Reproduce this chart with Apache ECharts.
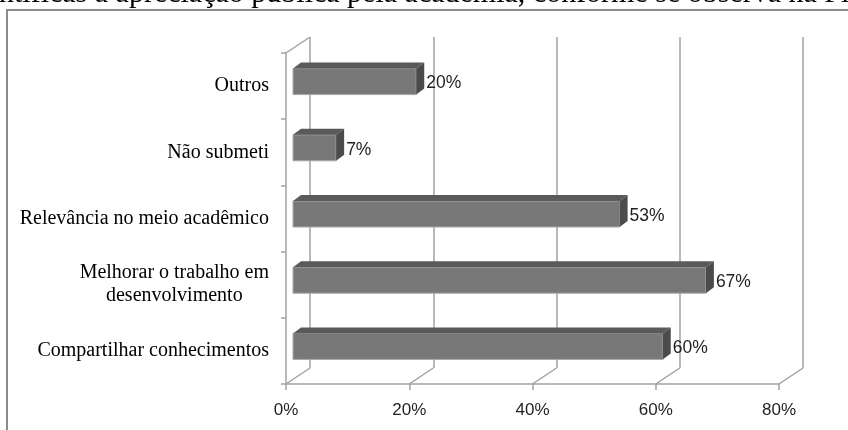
<!DOCTYPE html>
<html>
<head>
<meta charset="utf-8">
<script src="https://cdn.jsdelivr.net/npm/echarts@6/dist/echarts.min.js"></script>
<style>
  html, body { margin: 0; padding: 0; background: #fff; }
  #chart { width: 848px; height: 430px; }
</style>
</head>
<body>
<div id="chart"></div>
<script>
// dados (de baixo para cima)
const categories = [
  'Compartilhar conhecimentos',
  'Melhorar o trabalho em\ndesenvolvimento',
  'Relevância no meio acadêmico',
  'Não submeti',
  'Outros'
];
const values = [60, 67, 53, 7, 20];
const xTicks = [0, 20, 40, 60, 80];
const headerText = 'científicas à apreciação pública pela academia, conforme se observa na Figura';

// profundidade do "3D"
const DX = 24, DY = 16;
const BAR_OX = 7, BAR_OY = -4.5, BAR_H = 26, BAR_DX = 8, BAR_DY = 6;
const lineColor = '#a2a2a2';

const chart = echarts.init(document.getElementById('chart'));

const option = {
  animation: false,
  backgroundColor: '#fff',
  graphic: [
    {
      type: 'rect',
      shape: { x: 7, y: 10, width: 900, height: 500 },
      style: { fill: 'none', stroke: '#8c8c8c', lineWidth: 2 },
      silent: true
    },
    {
      // linha do texto do documento, cortada no topo
      type: 'text',
      x: -36,
      y: -6,
      style: {
        text: headerText,
        verticalAlign: 'middle',
        font: '30px "Liberation Serif", serif',
        fill: '#000'
      },
      silent: true
    }
  ],
  grid: [
    { left: 286, right: 69, top: 53, bottom: 46 },
    { left: 310, right: 45, top: 37, bottom: 62 }
  ],
  xAxis: [
    {
      gridIndex: 0,
      type: 'value',
      min: 0,
      max: 80,
      interval: 20,
      axisLine: { show: true, lineStyle: { color: lineColor, width: 1.5 } },
      axisTick: { show: true, length: 6, lineStyle: { color: lineColor, width: 1.5 } },
      axisLabel: {
        formatter: '{value}%',
        margin: 18,
        color: '#1f1f1f',
        fontSize: 17,
        fontFamily: '"Liberation Sans", sans-serif'
      },
      splitLine: { show: false }
    },
    {
      gridIndex: 1,
      type: 'value',
      min: 0,
      max: 80,
      interval: 20,
      axisLine: { show: false },
      axisTick: { show: false },
      axisLabel: { show: false },
      splitLine: { show: true, lineStyle: { color: lineColor, width: 1.5 } }
    }
  ],
  yAxis: [
    {
      gridIndex: 0,
      type: 'category',
      data: categories,
      axisLine: { show: true, lineStyle: { color: lineColor, width: 1.5 } },
      axisTick: { show: true, length: 5, lineStyle: { color: lineColor, width: 1.5 } },
      axisLabel: {
        margin: 17,
        color: '#000',
        fontSize: 20,
        lineHeight: 23,
        fontFamily: '"Liberation Serif", serif',
        formatter: (v) => v.split('\n').map(s => '{c|' + s + '}').join('\n'),
        rich: {
          c: {
            align: 'center',
            fontSize: 20,
            lineHeight: 23,
            fontFamily: '"Liberation Serif", serif',
            color: '#000'
          }
        }
      }
    },
    {
      gridIndex: 1,
      type: 'category',
      data: categories,
      show: false
    }
  ],
  series: [
    {
      // diagonais do piso
      type: 'custom',
      xAxisIndex: 0,
      yAxisIndex: 0,
      silent: true,
      data: xTicks.map(v => [v, 0]),
      renderItem: (params, api) => {
        const p = api.coord([api.value(0), 0]);
        const half = api.size([0, 1])[1] / 2;
        const y0 = p[1] + half;
        return {
          type: 'line',
          shape: { x1: p[0], y1: y0, x2: p[0] + DX, y2: y0 - DY },
          style: { stroke: lineColor, lineWidth: 1.5 }
        };
      }
    },
    {
      // diagonal superior da parede lateral
      type: 'custom',
      xAxisIndex: 0,
      yAxisIndex: 0,
      silent: true,
      data: [[0, categories.length - 1]],
      renderItem: (params, api) => {
        const p = api.coord([0, api.value(1)]);
        const half = api.size([0, 1])[1] / 2;
        const y0 = p[1] - half;
        return {
          type: 'line',
          shape: { x1: p[0], y1: y0, x2: p[0] + DX, y2: y0 - DY },
          style: { stroke: lineColor, lineWidth: 1.5 }
        };
      }
    },
    {
      // barras 3D
      type: 'custom',
      xAxisIndex: 0,
      yAxisIndex: 0,
      data: values.map((v, i) => [v, i]),
      renderItem: (params, api) => {
        const v = api.value(0);
        const i = api.value(1);
        const start = api.coord([0, i]);
        const end = api.coord([v, i]);
        const x0 = start[0] + BAR_OX;
        const x1 = end[0] + BAR_OX;
        const yc = start[1] + BAR_OY;
        const yt = yc - BAR_H / 2;
        const yb = yc + BAR_H / 2;
        return {
          type: 'group',
          children: [
            {
              type: 'rect',
              shape: { x: x0, y: yt, width: x1 - x0, height: BAR_H },
              style: { fill: '#787878', stroke: '#a8a8a8', lineWidth: 1 }
            },
            {
              type: 'polygon',
              shape: { points: [[x0, yt], [x1, yt], [x1 + BAR_DX, yt - BAR_DY], [x0 + BAR_DX, yt - BAR_DY]] },
              style: { fill: '#5a5a5a' }
            },
            {
              type: 'polygon',
              shape: { points: [[x1, yt], [x1 + BAR_DX, yt - BAR_DY], [x1 + BAR_DX, yb - BAR_DY], [x1, yb]] },
              style: { fill: '#4b4b4b' }
            },
            {
              type: 'text',
              style: {
                text: v + '%',
                x: x1 + BAR_DX + 2,
                y: yc + 2,
                verticalAlign: 'middle',
                font: '17.5px "Liberation Sans", sans-serif',
                fill: '#1f1f1f'
              }
            }
          ]
        };
      }
    }
  ]
};

chart.setOption(option);
</script>
</body>
</html>
